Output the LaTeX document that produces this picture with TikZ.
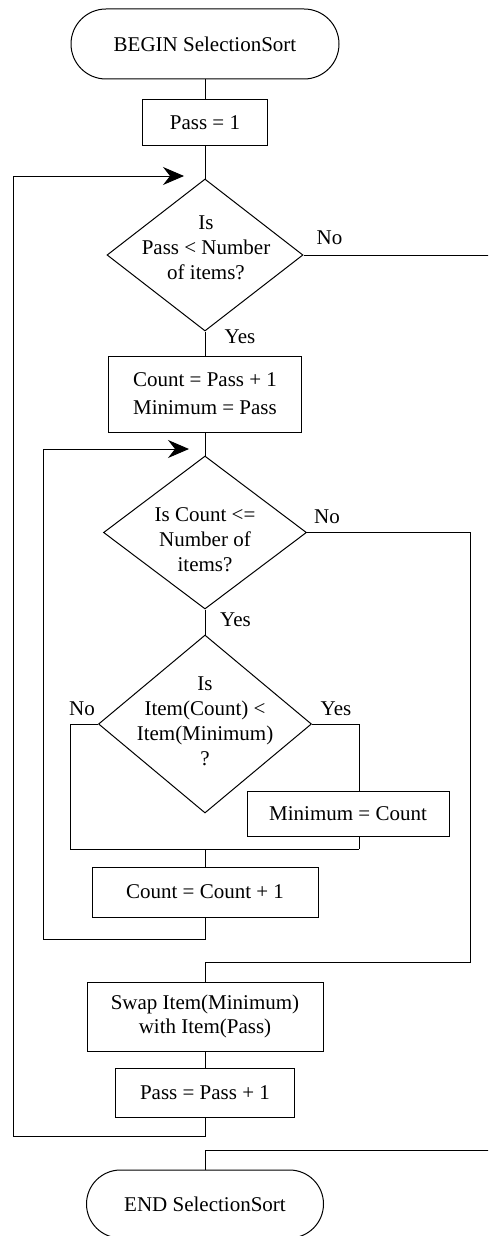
\documentclass[tikz,border=0pt]{standalone}
\usepackage{fontspec}
\setmainfont{Liberation Serif}
\usetikzlibrary{shapes.geometric,arrows.meta}
\begin{document}
\begin{tikzpicture}[x=1pt,y=-1pt,line width=1pt,
  font=\fontsize{21}{25}\selectfont,
  term/.style={draw, rectangle, rounded corners=35pt, minimum width=268pt, minimum height=70pt, inner sep=0pt},
  proc/.style={draw, rectangle, inner sep=0pt, align=center},
  dec/.style={draw, diamond, inner sep=0pt},
  txt/.style={align=center, inner sep=0pt},
  lbl/.style={inner sep=0pt},
  loop/.style={-{Stealth[length=21pt,width=18pt,inset=7pt]}}
]
\clip (0,0) rectangle (488,1236);

% flowchart blocks
\node[term] (begin) at (205,44) {BEGIN SelectionSort};
\node[proc, minimum width=125pt, minimum height=45pt] (p1) at (205,122.5) {Pass = 1};
\node[dec, minimum width=196pt, minimum height=152pt] (d1) at (205,255) {};
\node[txt] (d1t) at (206,248) {Is\\Pass < Number\\of items?};
\node[proc, minimum width=193pt, minimum height=76pt, font=\fontsize{21}{28}\selectfont] (b2) at (205,394) {Count = Pass + 1\\Minimum = Pass};
\node[dec, minimum width=203pt, minimum height=153pt] (d2) at (205,532.5) {};
\node[txt] (d2t) at (205,540) {Is Count <=\\Number of\\items?};
\node[dec, minimum width=213pt, minimum height=178pt] (d3) at (205,724) {};
\node[txt] (d3t) at (205,721) {Is\\Item(Count) <\\Item(Minimum)\\?};
\node[proc, minimum width=202pt, minimum height=45pt] (mc) at (348,813.5) {Minimum = Count};
\node[proc, minimum width=226pt, minimum height=50pt] (cc) at (205,892) {Count = Count + 1};
\node[proc, minimum width=236pt, minimum height=69pt, font=\fontsize{21}{23.5}\selectfont] (sw) at (205,1016.5) {Swap Item(Minimum)\\with Item(Pass)};
\node[proc, minimum width=179pt, minimum height=49pt] (pp) at (205,1092.5) {Pass = Pass + 1};
\node[term, minimum width=237pt, minimum height=68pt, rounded corners=34pt] (end) at (205,1204) {END SelectionSort};

% branch labels
\node[lbl] (n1) at (329.5,238) {No};
\node[lbl] (y1) at (240,337) {Yes};
\node[lbl] (n2) at (327,517) {No};
\node[lbl] (y2) at (235.5,620) {Yes};
\node[lbl] (n3) at (82,709) {No};
\node[lbl] (y3) at (336,709) {Yes};

% routing points
\coordinate (a1) at (184,176);
\coordinate (l1t) at (13,176);
\coordinate (l1b) at (13,1136);
\coordinate (a2) at (189,449);
\coordinate (l2t) at (43,449);
\coordinate (l2b) at (43,939);
\coordinate (r2) at (470,962);
\coordinate (nl) at (70,849);
\coordinate (nr) at (359,849);
\coordinate (jn) at (205,849);
\coordinate (ex1) at (492,255);
\coordinate (ex2) at (492,1150);

% connectors
\draw (begin.south) -- (p1.north);
\draw (p1.south) -- (d1.north);
\draw (d1.south) -- (b2.north);
\draw (b2.south) -- (d2.north);
\draw (d2.south) -- (d3.north);
\draw (d3.west) -| (nl) -- (nr);
\draw (d3.east) -| (mc.north -| nr);
\draw (mc.south -| nr) -- (nr);
\draw (jn) -- (cc.north);
\draw[loop] (cc.south) |- (l2b) -- (l2t) -- (a2);
\draw (d2.east) -| (r2) -| (sw.north);
\draw (sw.south) -- (pp.north);
\draw[loop] (pp.south) |- (l1b) -- (l1t) -- (a1);
\draw (d1.east) -- (ex1);
\draw (ex2) -| (end.north);
\end{tikzpicture}
\end{document}
